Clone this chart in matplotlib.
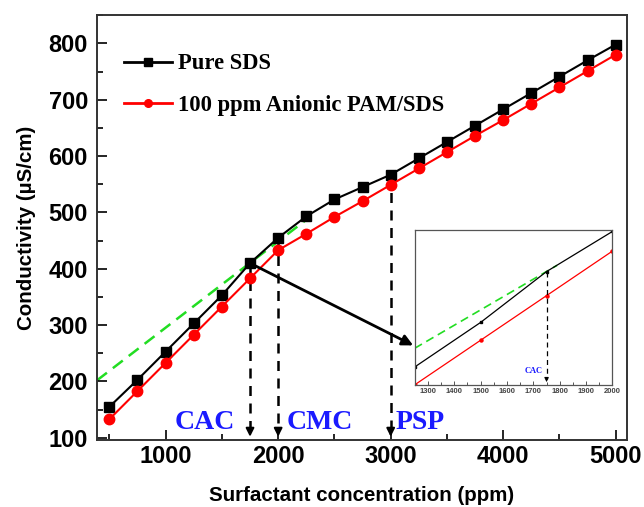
import numpy as np
import matplotlib.pyplot as plt
from matplotlib.ticker import MultipleLocator

# surfactant concentration (ppm)
conc = [500, 750, 1000, 1250, 1500, 1750, 2000, 2250, 2500, 2750,
        3000, 3250, 3500, 3750, 4000, 4250, 4500, 4750, 5000]
# conductivity (uS/cm)
pure_sds = [155, 203, 253, 303, 353, 410, 455, 493, 523, 545,
            567, 596, 625, 654, 683, 712, 741, 770, 798]
pam_sds = [133, 183, 233, 283, 333, 383, 433, 462, 492, 520,
           549, 578, 607, 636, 664, 693, 722, 751, 780]

# extrapolated pre-CAC line
fit_x = [390, 2250]
fit_y = [202, 487]
fit_x_zoom = [1250, 1790]
fit_y_zoom = [324, 417]

# transition points
marks = ["CAC", "CMC", "PSP"]
mark_x = [1750, 2000, 3000]
mark_y = [410, 455, 567]
mark_text_x = [1349, 2370, 3258]

serif = "Liberation Serif"
sans = "Liberation Sans"

fig = plt.figure(figsize=(6.44, 5.07), dpi=100)
ax = fig.add_axes([0.1506, 0.132, 0.823, 0.838])

ax.plot(fit_x, fit_y, "--", color="#22dd22", lw=1.8, dashes=(5, 3), zorder=1)
ax.plot(conc, pure_sds, "-s", color="black", lw=1.5, ms=6.5, label="Pure SDS", zorder=3)
ax.plot(conc, pam_sds, "-o", color="red", mfc="red", mec="red", lw=1.5, ms=7.5,
        label="100 ppm Anionic PAM/SDS", zorder=3)

for name, x, y, tx in zip(marks, mark_x, mark_y, mark_text_x):
    ax.plot([x, x], [y, 112], "--", color="black", lw=1.8, dashes=(4, 3), zorder=2)
    ax.annotate("", xy=(x, 97), xytext=(x, 116),
                arrowprops=dict(arrowstyle="-|>", color="black", lw=1.5,
                                mutation_scale=12))
    ax.text(tx, 127, name, color="#1a1aff", fontsize=20, fontweight="bold",
            family=serif, ha="center", va="center")

# pointer to the zoomed view
ax.annotate("", xy=(3200, 264), xytext=(1750, 410),
            arrowprops=dict(arrowstyle="-|>", color="black", lw=2,
                            mutation_scale=16, shrinkA=0, shrinkB=0))

ax.set_xlim(390, 5100)
ax.set_ylim(96, 850)
ax.xaxis.set_major_locator(MultipleLocator(1000))
ax.xaxis.set_minor_locator(MultipleLocator(500))
ax.yaxis.set_major_locator(MultipleLocator(100))
ax.yaxis.set_minor_locator(MultipleLocator(50))
ax.tick_params(which="both", direction="in", top=False, right=False, width=1.2)
ax.tick_params(which="major", length=7, labelsize=17)
ax.tick_params(axis="y", which="major", pad=6.5)
ax.tick_params(which="minor", length=4)
for lab in ax.get_xticklabels() + ax.get_yticklabels():
    lab.set_fontweight("bold")
    lab.set_family(sans)
for s in ax.spines.values():
    s.set_linewidth(1.4)
    s.set_color("#333333")

ax.set_xlabel("Surfactant concentration (ppm)", fontsize=14.8, fontweight="bold",
              family=sans, labelpad=13)
ax.set_ylabel("Conductivity (µS/cm)", fontsize=14.8, fontweight="bold",
              family=sans, labelpad=9)

leg = ax.legend(loc="upper left", frameon=False, bbox_to_anchor=(0.013, 0.958),
                prop=dict(family=serif, weight="bold", size=16.3),
                handlelength=2.1, handletextpad=0.28, labelspacing=0.9)
for h in leg.legend_handles:
    h.set_markersize(5.5)
    h.set_linewidth(2)

# zoomed view around the CAC
ins = fig.add_axes([0.644, 0.241, 0.307, 0.306])
ins.plot(fit_x_zoom, fit_y_zoom, "--", color="#22dd22", lw=1.2, dashes=(5, 3))
ins.plot(conc, pure_sds, "-s", color="black", lw=0.9, ms=2)
ins.plot(conc, pam_sds, "-o", color="red", lw=0.9, ms=2.2)
ins.plot([1750, 1750], [410, 290], "--", color="black", lw=0.9, dashes=(4, 3))
ins.annotate("", xy=(1750, 283), xytext=(1750, 292),
             arrowprops=dict(arrowstyle="-|>", color="black", lw=0.8,
                             mutation_scale=6))
ins.text(1700, 298, "CAC", color="#1a1aff", fontsize=6, fontweight="bold",
         family=serif, ha="center", va="center")
ins.set_xlim(1250, 2000)
ins.set_ylim(283, 457)
ins.xaxis.set_major_locator(MultipleLocator(100))
ins.xaxis.set_minor_locator(MultipleLocator(50))
ins.set_yticks([])
ins.tick_params(which="both", direction="in", top=False, right=False,
                width=0.7, color="#555555")
ins.tick_params(which="major", length=3, labelsize=5.5, labelcolor="#444444", pad=2)
ins.tick_params(which="minor", length=2)
for lab in ins.get_xticklabels():
    lab.set_fontweight("bold")
    lab.set_family(sans)
for s in ins.spines.values():
    s.set_linewidth(0.9)
    s.set_color("#555555")

fig.savefig("out.png", dpi=100)
